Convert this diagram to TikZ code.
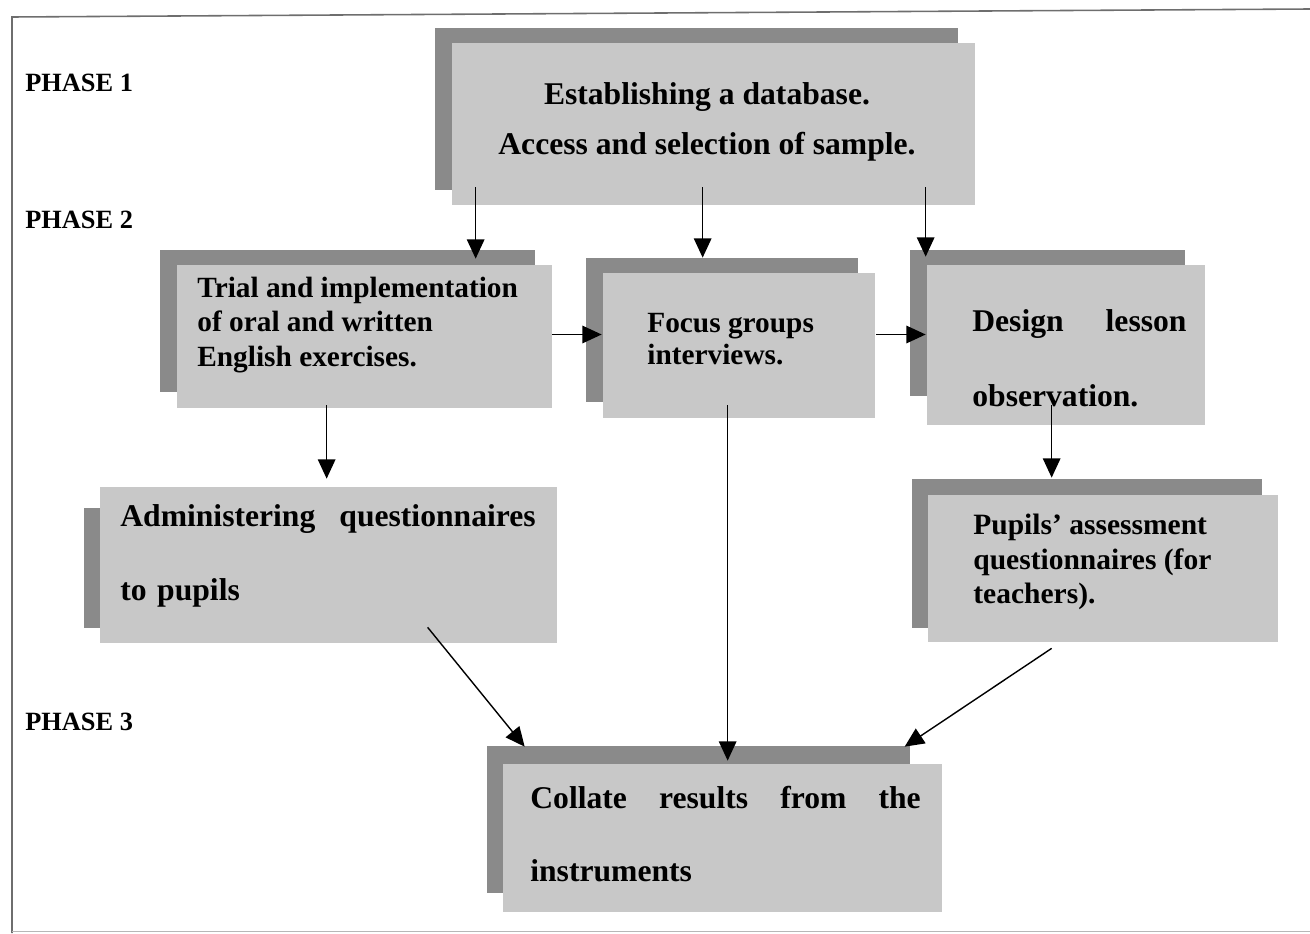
\documentclass[tikz,border=0pt]{standalone}
\usepackage{fontspec}
\setmainfont{Liberation Serif}
\usetikzlibrary{arrows.meta,calc,fit}
\definecolor{frontc}{RGB}{200,200,200}
\definecolor{backc}{RGB}{138,138,138}
\definecolor{framec}{RGB}{110,110,110}
\tikzset{
  front/.style={fill=frontc, draw=none, inner sep=0pt},
  back/.style={fill=backc, draw=none, inner sep=0pt},
  txt/.style={inner sep=0pt, anchor=west, align=left, text=black},
  phase/.style={inner sep=0pt, anchor=west, font=\bfseries\fontsize{15}{18}\selectfont},
  arr/.style={line width=0.8pt, draw=black, -{Triangle[length=11pt,width=10pt]}},
}
\begin{document}
\begin{tikzpicture}[x=0.02cm, y=-0.02cm]
\useasboundingbox (0,0) rectangle (1310,933);
% frame
\draw[framec, line width=0.9pt] (12,933) -- (12,17) -- (1310,9);
\draw[framec!50, line width=0.5pt] (12,931) -- (1310,931);

% phase labels
\node[phase] (p1) at (25,83) {PHASE 1};
\node[phase] (p2) at (25,220) {PHASE 2};
\node[phase] (p3) at (25,722) {PHASE 3};

% top box
\node[back, fit={(435,28) (958,190)}] (topb) {};
\node[front, fit={(452,43) (975,205)}] (top) {};
\node[txt, anchor=center, align=center, font=\bfseries\fontsize{18}{28.3}\selectfont] (topt) at (707,122)
  {Establishing a database.\\Access and selection of sample.};

% trial box
\node[back, fit={(160,250) (535,392)}] (trialb) {};
\node[front, fit={(177,265) (552,408)}] (trial) {};
\node[txt, font=\bfseries\fontsize{16.7}{19.4}\selectfont] (trialt) at (197,325)
  {Trial and implementation\\of oral and written\\English exercises.};

% focus box
\node[back, fit={(586,258) (858,402)}] (focusb) {};
\node[front, fit={(603,273) (875,418)}] (focus) {};
\node[txt, font=\bfseries\fontsize{16.7}{18.2}\selectfont] (focust) at (647,339)
  {Focus groups\\interviews.};

% design box
\node[back, fit={(910,250) (1185,396)}] (designb) {};
\node[front, fit={(927,265) (1205,425)}] (design) {};
\node[txt, text width=121.9pt, font=\bfseries\fontsize{18}{42.5}\selectfont] (designt) at (972,358)
  {Design\hfill lesson\\observation.};

% administering box
\node[back, fit={(84,508) (100,628)}] (adminb) {};
\node[front, fit={(100,487) (557,643)}] (admin) {};
\node[txt, text width=236.4pt, font=\bfseries\fontsize{18}{42}\selectfont] (admint) at (120,556)
  {Administering\hfill questionnaires\\to pupils};

% pupils box
\node[back, fit={(912,479) (1262,628)}] (pupilsb) {};
\node[front, fit={(928,495) (1278,642)}] (pupils) {};
\node[txt, font=\bfseries\fontsize{16.8}{19.6}\selectfont] (pupilst) at (973,562)
  {Pupils’ assessment\\questionnaires (for\\teachers).};

% collate box
\node[back, fit={(487,746) (910,893)}] (collateb) {};
\node[front, fit={(503,764) (942,912)}] (collate) {};
\node[txt, text width=222.2pt, font=\bfseries\fontsize{18}{42}\selectfont] (collatet) at (530,834)
  {Collate\hfill results\hfill from\hfill the\\instruments};

% arrows
\draw[arr] ($(top.south west)+(24,-18)$) -- ($(trial.north west)+(299,-6)$);
\draw[arr] ($(top.south west)+(251,-18)$) -- ($(focus.north west)+(100,-15)$);
\draw[arr] ($(top.south west)+(474,-18)$) -- ($(design.north west)+(-1,-8)$);
\draw[arr] ($(trial.east)+(0,-2)$) -- ($(focus.west |- trial.east)+(-1,-2)$);
\draw[arr] ($(focus.east |- trial.east)+(1,-2)$) -- ($(design.west |- trial.east)+(-1,-2)$);
\draw[arr] ($(trial.south west)+(150,-3)$) -- ($(admin.north west)+(227,-8)$);
\draw[arr] ($(design.south west)+(125,-20)$) -- ($(pupils.north west)+(124,-17)$);
\draw[arr] ($(admin.south west)+(328,-16)$) -- ($(collate.north west)+(22,-17)$);
\draw[arr] ($(focus.south west)+(125,-13)$) -- ($(collate.north west)+(225,-3)$);
\draw[arr] ($(pupils.south west)+(124,6)$) -- ($(collate.north west)+(402,-17)$);
\end{tikzpicture}
\end{document}
